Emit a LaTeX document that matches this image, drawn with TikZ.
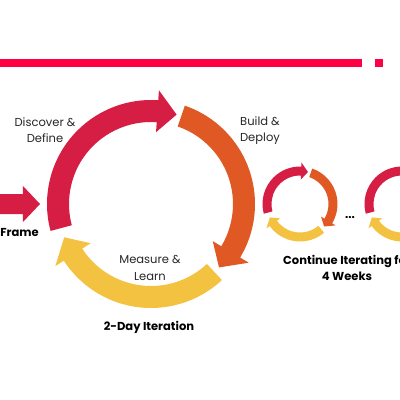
\documentclass[tikz,border=0pt]{standalone}
\usepackage{fontspec}
\setmainfont{Poppins}
\usetikzlibrary{positioning}

\definecolor{barred}{RGB}{255,0,68}
\definecolor{cycred}{RGB}{214,30,68}
\definecolor{cycorange}{RGB}{224,88,36}
\definecolor{cycyellow}{RGB}{243,194,64}

% curved arrow, clockwise: colour, tail angle, tip angle, radius, half width, head extra
\newcommand{\cyclearrow}[6]{%
  \fill[#1] ({#2}:{#4+#5}) arc[start angle={#2}, end angle={#3+12}, radius={#4+#5}]
    -- ({#3+12}:{#4+#5+#6}) -- ({#3}:{#4}) -- ({#3+12}:{#4-#5-#6})
    -- ({#3+12}:{#4-#5}) arc[start angle={#3+12}, end angle={#2}, radius={#4-#5}] -- cycle;}

\tikzset{
  lbl/.style={font=\fontsize{8.2}{11.5}\selectfont, align=center, text=black!85},
  blbl/.style={font=\fontsize{8.2}{11.5}\selectfont\bfseries, align=center, text=black}
}

\begin{document}
\begin{tikzpicture}[scale=0.025]

    % Fix the frame of the picture (400 x 400)
    \useasboundingbox (0,0) rectangle (400,400);
    \clip (0,0) rectangle (400,400);

    % Red bar and square at the top
    \fill[barred] (0,333) rectangle (362,341);
    \fill[barred] (375,333) rectangle (383,341);

    % Frame arrow at the left
    \fill[cycred] (-5,186) -- (23,186) -- (23,178) -- (40,196) -- (23,214) -- (23,206) -- (-5,206) -- cycle;

    % Big 2-day cycle
    \begin{scope}[shift={(151,196)}]
        \cyclearrow{cycred}{195}{74}{93}{11}{10}
        \cyclearrow{cycorange}{71}{-43}{93}{11}{10}
        \cyclearrow{cycyellow}{-47}{-159}{93}{11}{10}
    \end{scope}

    % Small cycles
    \begin{scope}[shift={(300,196)}]
        \cyclearrow{cycred}{195}{76}{33}{4.5}{4}
        \cyclearrow{cycorange}{71}{-43}{33}{4.5}{4}
        \cyclearrow{cycyellow}{-50}{-156}{33}{4.5}{4}
    \end{scope}
    \begin{scope}[shift={(402,196)}]
        \cyclearrow{cycred}{195}{76}{33}{4.5}{4}
        \cyclearrow{cycorange}{71}{-43}{33}{4.5}{4}
        \cyclearrow{cycyellow}{-50}{-156}{33}{4.5}{4}
    \end{scope}

    % Labels
    \node[blbl, anchor=west, inner sep=0pt] (frame) at (0,168) {Frame};
    \node[lbl] (discover) at (45,270) {Discover \&\\Define};
    \node[lbl] (build) at (260,269) {Build \&\\Deploy};
    \node[lbl] (measure) at (150,132) {Measure \&\\Learn};
    \node[blbl] (iter) at (149,73) {2-Day Iteration};
    \node[blbl] (cont) at (347,132) {Continue Iterating for\\4 Weeks};
    \node[blbl] (dots) at (350,182) {...};

\end{tikzpicture}
\end{document}
